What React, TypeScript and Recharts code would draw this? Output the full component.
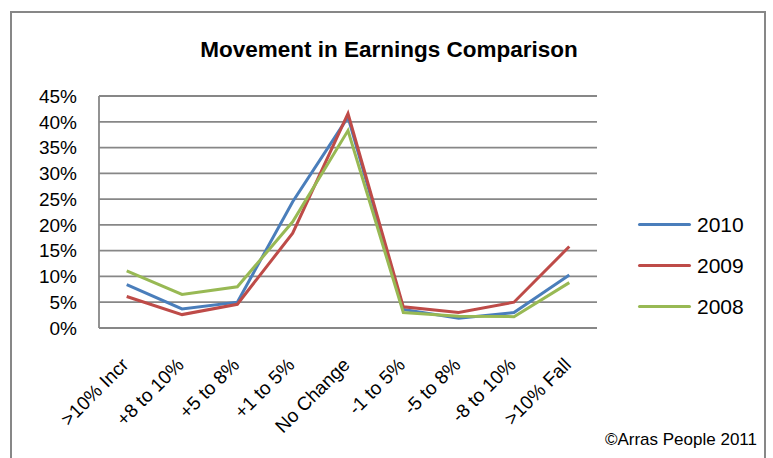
import { LineChart, Line, XAxis, YAxis, CartesianGrid } from 'recharts';

const categories = [
  '>10% Incr', '+8 to 10%', '+5 to 8%', '+1 to 5%', 'No Change',
  '-1 to 5%', '-5 to 8%', '-8 to 10%', '>10% Fall',
];
const values2010 = [8.4, 3.7, 5.0, 24.5, 40.9, 3.6, 1.9, 3.0, 10.3];
const values2009 = [6.1, 2.6, 4.6, 18.4, 41.6, 4.1, 3.0, 5.0, 15.8];
const values2008 = [11.1, 6.5, 8.0, 20.6, 38.3, 3.0, 2.3, 2.2, 8.8];
const yTicks = [0, 5, 10, 15, 20, 25, 30, 35, 40, 45];

const series = [
  { key: '2010', color: '#4A7EBB', values: values2010 },
  { key: '2009', color: '#BE4B48', values: values2009 },
  { key: '2008', color: '#98B954', values: values2008 },
];

const data = categories.map((name, i) => {
  const row: Record<string, string | number> = { name };
  for (const s of series) row[s.key] = s.values[i];
  return row;
});

const font = '"Liberation Sans", Arial, sans-serif';
const gridColor = '#878787';

function XTick({ x, y, payload }: any) {
  const ax = x + 3;
  const ay = y + 36;
  return (
    <text
      x={ax}
      y={ay}
      transform={`rotate(-45, ${ax}, ${ay})`}
      textAnchor="end"
      fontSize={19}
      fontFamily={font}
      fill="#000"
    >
      {payload.value}
    </text>
  );
}

export default function App() {
  return (
    <div style={{ position: 'absolute', left: 0, top: 0, width: 773, height: 458, overflow: 'hidden', background: '#fff', fontFamily: font }}>
      <div
        style={{
          position: 'absolute', left: 10, top: 11, width: 756, height: 470,
          border: `2px solid ${gridColor}`, boxSizing: 'border-box',
        }}
      >
        <LineChart width={752} height={445} data={data} margin={{ top: 83, right: 167, left: 0, bottom: 0 }}>
          <CartesianGrid vertical={false} stroke={gridColor} strokeWidth={1.8} />
          <XAxis
            dataKey="name"
            interval={0}
            padding={{ left: 27.7, right: 27.7 }}
            tickLine={false}
            tickSize={0}
            height={130}
            stroke={gridColor}
            strokeWidth={1.8}
            tick={<XTick />}
          />
          <YAxis
            domain={[0, 45]}
            ticks={yTicks}
            interval={0}
            width={87}
            tickLine={false}
            tickSize={0}
            tickMargin={22}
            tickFormatter={(v: number) => `${v}%`}
            stroke={gridColor}
            strokeWidth={1.8}
            tick={{ fill: '#000', fontSize: 19, fontFamily: font }}
          />
          {series.map(s => (
            <Line
              key={s.key}
              type="linear"
              dataKey={s.key}
              stroke={s.color}
              strokeWidth={3}
              dot={false}
              isAnimationActive={false}
            />
          ))}
        </LineChart>
      </div>
      <div
        style={{
          position: 'absolute', left: 0, width: 778, top: 39, textAlign: 'center',
          fontSize: 22.5, lineHeight: '22px', fontWeight: 'bold', color: '#000',
        }}
      >
        Movement in Earnings Comparison
      </div>
      <div style={{ position: 'absolute', left: 638, top: 204 }}>
        {series.map(s => (
          <div key={s.key} style={{ display: 'flex', alignItems: 'center', height: 41 }}>
            <div style={{ width: 53, height: 3, background: s.color, borderRadius: 2 }} />
            <span style={{ marginLeft: 6, fontSize: 21, color: '#000' }}>{s.key}</span>
          </div>
        ))}
      </div>
      <div
        style={{
          position: 'absolute', right: 16, top: 431, fontSize: 17, lineHeight: '17px', color: '#000',
        }}
      >
        ©Arras People 2011
      </div>
    </div>
  );
}
